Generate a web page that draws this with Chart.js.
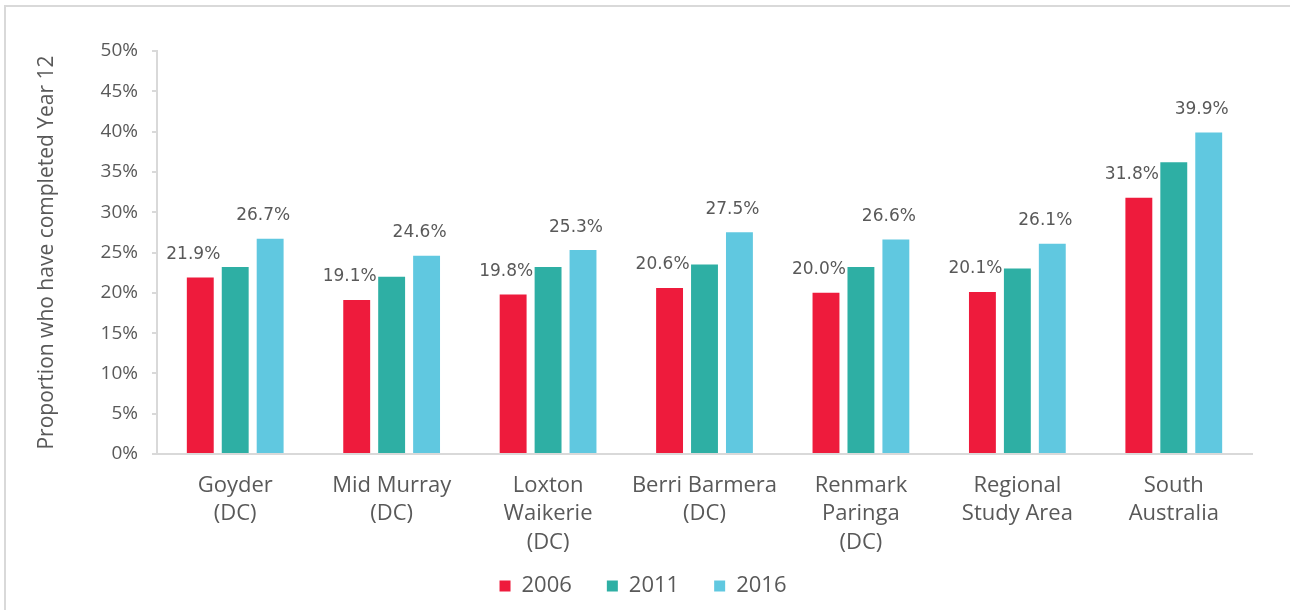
<!DOCTYPE html>
<html>
<head>
<meta charset="utf-8">
<script src="https://cdn.jsdelivr.net/npm/chart.js@4/dist/chart.umd.min.js"></script>
<style>
  html, body { margin: 0; padding: 0; background: #fff; }
  #frame { position: absolute; left: 4px; top: 5px; width: 1300px; height: 620px; border: 2px solid #d9d9d9; box-sizing: border-box; }
  #wrap { position: absolute; left: 0; top: 0; width: 1290px; height: 610px; }
</style>
</head>
<body>
<div id="frame"></div>
<div id="wrap"><canvas id="yearChart"></canvas></div>
<script>
const regions = [
    ['Goyder', '(DC)'],
    ['Mid Murray', '(DC)'],
    ['Loxton', 'Waikerie', '(DC)'],
    ['Berri Barmera', '(DC)'],
    ['Renmark', 'Paringa', '(DC)'],
    ['Regional', 'Study Area'],
    ['South', 'Australia']
];
const years = ['2006', '2011', '2016'];
const y2006 = [21.9, 19.1, 19.8, 20.6, 20.0, 20.1, 31.8];
const y2011 = [23.2, 22.0, 23.2, 23.5, 23.2, 23.0, 36.2];
const y2016 = [26.7, 24.6, 25.3, 27.5, 26.6, 26.1, 39.9];
const colours = ['#ee1b3c', '#2eafa4', '#60c8e0'];
const labelled = [0, 2]; // only 2006 and 2016 have value labels

const textGrey = '#595959';
const lineGrey = '#d9d9d9';

// draws the % labels above the bars, nudged a bit left like the original
const valueLabels = {
    id: 'valueLabels',
    afterDatasetsDraw(chart) {
        const ctx = chart.ctx;
        ctx.save();
        ctx.font = '17px "DejaVu Sans"';
        ctx.fillStyle = textGrey;
        ctx.textAlign = 'center';
        ctx.textBaseline = 'middle';
        labelled.forEach(d => {
            const meta = chart.getDatasetMeta(d);
            meta.data.forEach((bar, i) => {
                const v = chart.data.datasets[d].data[i];
                ctx.fillText(v.toFixed(1) + '%', bar.x - 7, bar.y - 23);
            });
        });
        ctx.restore();
    }
};

const chart = new Chart(document.getElementById('yearChart'), {
    type: 'bar',
    data: {
        labels: regions,
        datasets: [
            { label: years[0], data: y2006, backgroundColor: colours[0] },
            { label: years[1], data: y2011, backgroundColor: colours[1] },
            { label: years[2], data: y2016, backgroundColor: colours[2] }
        ]
    },
    options: {
        responsive: true,
        maintainAspectRatio: false,
        animation: false,
        categoryPercentage: 0.67,
        barPercentage: 0.77,
        layout: { padding: { top: 51, right: 38, left: 34, bottom: 3 } },
        plugins: {
            tooltip: { enabled: false },
            legend: {
                position: 'bottom',
                labels: {
                    color: textGrey,
                    font: { family: 'Open Sans', size: 22 },
                    boxWidth: 11,
                    boxHeight: 11,
                    padding: 35
                }
            }
        },
        scales: {
            x: {
                grid: { display: false },
                border: { color: lineGrey, width: 2 },
                ticks: {
                    color: textGrey,
                    font: { family: 'Open Sans', size: 22, lineHeight: 1.3 },
                    padding: 9,
                    maxRotation: 0,
                    autoSkip: false
                },
                afterFit(scale) {
                    scale.height = 86;
                    // third label lines hang below the scale box, don't clip them
                    scale._computeLabelArea = () => undefined;
                }
            },
            y: {
                min: 0,
                max: 50,
                grid: { drawOnChartArea: false, color: lineGrey, tickLength: 5, lineWidth: 2 },
                border: { color: lineGrey, width: 2 },
                ticks: {
                    stepSize: 5,
                    color: textGrey,
                    font: { family: 'Open Sans', size: 19 },
                    padding: 14,
                    callback: v => v + '%'
                },
                title: {
                    display: true,
                    text: 'Proportion who have completed Year 12',
                    color: textGrey,
                    font: { family: 'Open Sans', size: 21 },
                    padding: { top: 0, bottom: 0 }
                },
                afterFit(scale) { scale.width = 123; }
            }
        }
    },
    plugins: [valueLabels]
});
</script>
</body>
</html>
